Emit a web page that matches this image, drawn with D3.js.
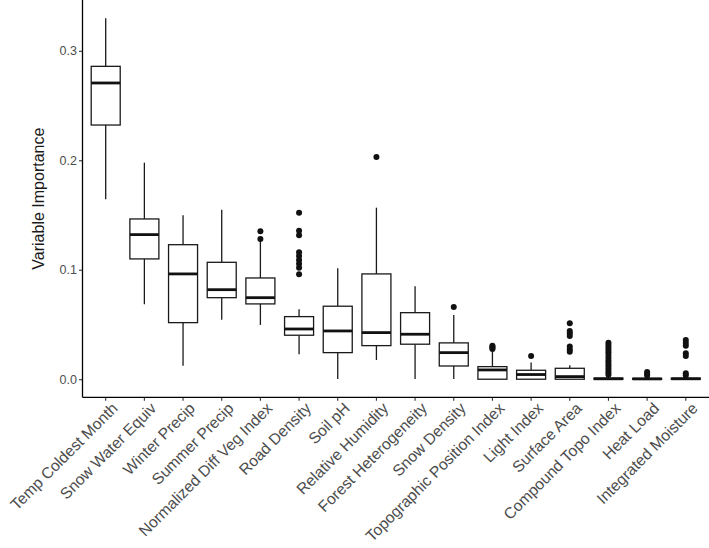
<!DOCTYPE html>
<html lang="en">
  <head>
    <meta charset="utf-8">
    <title>Variable Importance</title>
    <script src="https://cdn.jsdelivr.net/npm/d3@7"></script>
    <style>
      body { margin: 0; background: #fff; }
      svg { display: block; }
    </style>
  </head>
  <body>
    <div id='chart'></div>

    <script type='text/javascript'>
      // one entry per predictor, in plotted order
      let categories = ['Temp Coldest Month', 'Snow Water Equiv', 'Winter Precip', 'Summer Precip',
                        'Normalized Diff Veg Index', 'Road Density', 'Soil pH', 'Relative Humidity',
                        'Forest Heterogeneity', 'Snow Density', 'Topographic Position Index', 'Light Index',
                        'Surface Area', 'Compound Topo Index', 'Heat Load', 'Integrated Moisture'];
      let whiskerLow  = [0.1644, 0.0685, 0.0124, 0.0544, 0.0496, 0.0228, 0.0003, 0.0176, 0.0003, 0.0003, 0, 0, 0, 0, 0, 0];
      let q1          = [0.2322, 0.1099, 0.0517, 0.0745, 0.0688, 0.0402, 0.0243, 0.0307, 0.0320, 0.0121, 0, 0, 0, 0, 0, 0];
      let medians     = [0.2706, 0.1321, 0.0962, 0.0818, 0.0745, 0.0459, 0.0441, 0.0426, 0.0411, 0.0243, 0.0085, 0.0043, 0.0024, 0.0004, 0.0003, 0.0004];
      let q3          = [0.2858, 0.1464, 0.1229, 0.1068, 0.0925, 0.0572, 0.0667, 0.0962, 0.0608, 0.0332, 0.0115, 0.0082, 0.0100, 0.0010, 0.0008, 0.0010];
      let whiskerHigh = [0.3297, 0.1978, 0.1498, 0.1549, 0.1265, 0.0639, 0.1014, 0.1567, 0.0849, 0.0587, 0.0270, 0.0152, 0.0128, 0.0020, 0.0016, 0.0020];
      let outliers    = [[], [], [], [],
                         [0.1352, 0.1281],
                         [0.1521, 0.1357, 0.1315, 0.1160, 0.1126, 0.1089, 0.1056, 0.1019, 0.0959],
                         [],
                         [0.2030],
                         [],
                         [0.0660],
                         [0.0306, 0.0296, 0.0286, 0.0277],
                         [0.0212],
                         [0.0511, 0.0440, 0.0420, 0.0396, 0.0298, 0.0274, 0.0252],
                         [0.0334, 0.0312, 0.0290, 0.0268, 0.0246, 0.0222, 0.0196, 0.0172, 0.0150, 0.0128, 0.0106, 0.0084, 0.0062, 0.0040],
                         [0.0066, 0.0050, 0.0035],
                         [0.0359, 0.0332, 0.0306, 0.0237, 0.0212, 0.0055, 0.0035]];
      let yTicks = [0, 0.1, 0.2, 0.3];

      let width = 709, height = 548;
      let margin = {top: 0, right: 0, bottom: 150.7, left: 82.5};
      let panelW = width - margin.left - margin.right;
      let panelH = height - margin.top - margin.bottom;

      let svg = d3.select('#chart').append('svg')
        .attr('width', width)
        .attr('height', height)
        .style('font-family', '"Liberation Sans", Arial, sans-serif')

      let x = d3.scaleBand()
        .domain(categories)
        .range([0, panelW])
        .paddingInner(0)
        .paddingOuter(0.1)

      let y = d3.scaleLinear()
        .domain([-0.0165, 0.3464])
        .range([panelH, 0])

      let canvas = svg.append('g')
        .attr('transform', 'translate(' + margin.left + ',' + margin.top + ')')

      let boxes = categories.map((c, i) => ({
        name: c, lo: whiskerLow[i], q1: q1[i], med: medians[i], q3: q3[i], hi: whiskerHigh[i], out: outliers[i]
      }))

      let boxW = x.bandwidth() * 0.75;
      let cx = (d) => x(d.name) + x.bandwidth() / 2;

      let g = canvas.selectAll('g.box')
        .data(boxes)
        .enter()
        .append('g')
        .attr('class', 'box')

      // whiskers
      g.append('line')
        .attr('x1', cx).attr('x2', cx)
        .attr('y1', (d) => y(d.q3)).attr('y2', (d) => y(d.hi))
        .attr('stroke', '#1a1a1a').attr('stroke-width', 1.3)
      g.append('line')
        .attr('x1', cx).attr('x2', cx)
        .attr('y1', (d) => y(d.q1)).attr('y2', (d) => y(d.lo))
        .attr('stroke', '#1a1a1a').attr('stroke-width', 1.3)

      g.append('rect')
        .attr('x', (d) => cx(d) - boxW / 2)
        .attr('width', boxW)
        .attr('y', (d) => y(d.q3))
        .attr('height', (d) => y(d.q1) - y(d.q3))
        .attr('fill', '#fff')
        .attr('stroke', '#1a1a1a')
        .attr('stroke-width', 1.3)

      g.append('line')
        .attr('x1', (d) => cx(d) - boxW / 2).attr('x2', (d) => cx(d) + boxW / 2)
        .attr('y1', (d) => y(d.med)).attr('y2', (d) => y(d.med))
        .attr('stroke', '#111').attr('stroke-width', 2.8)

      g.selectAll('circle')
        .data((d) => d.out.map((v) => ({name: d.name, v: v})))
        .enter()
        .append('circle')
        .attr('cx', cx)
        .attr('cy', (d) => y(d.v))
        .attr('r', 3)
        .attr('fill', '#111')

      // axes
      let yAxis = canvas.append('g')
        .call(d3.axisLeft(y).tickValues(yTicks).tickFormat(d3.format('.1f')).tickSize(3.5).tickPadding(2))
      yAxis.select('.domain').remove()
      yAxis.append('line')
        .attr('x1', 0).attr('x2', 0).attr('y1', 0).attr('y2', panelH)
        .attr('stroke', '#000').attr('stroke-width', 1.3)
      yAxis.selectAll('.tick line').attr('stroke', '#333').attr('stroke-width', 1.1)
      yAxis.selectAll('.tick text')
        .attr('fill', '#4d4d4d')
        .style('font-size', '12.5px')
        .style('font-family', '"Liberation Sans", Arial, sans-serif')

      let xAxis = canvas.append('g')
        .attr('transform', 'translate(0,' + panelH + ')')
        .call(d3.axisBottom(x).tickSize(3.5).tickSizeOuter(0))
      xAxis.select('.domain').remove()
      xAxis.append('line')
        .attr('x1', 0).attr('x2', panelW)
        .attr('stroke', '#000').attr('stroke-width', 1.3)
      xAxis.selectAll('.tick line').attr('stroke', '#333').attr('stroke-width', 1.1)
      xAxis.selectAll('.tick text')
        .attr('fill', '#4d4d4d')
        .style('font-size', '15.7px')
        .style('font-family', '"Liberation Sans", Arial, sans-serif')
        .attr('text-anchor', 'end')
        .attr('x', 0).attr('y', 0).attr('dy', '0.72em')
        .attr('transform', 'translate(5,4) rotate(-45)')

      svg.append('text')
        .attr('transform', 'translate(44,' + (margin.top + panelH / 2) + ') rotate(-90)')
        .attr('text-anchor', 'middle')
        .style('font-size', '16px')
        .attr('fill', '#1a1a1a')
        .text('Variable Importance')
    </script>
  </body>
</html>
